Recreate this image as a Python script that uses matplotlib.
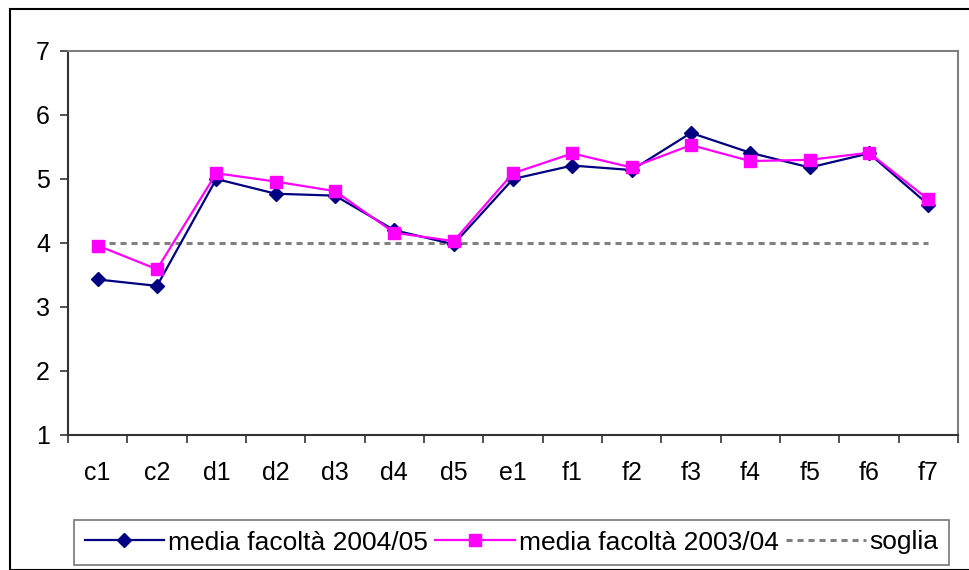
import numpy as np
import matplotlib
matplotlib.use("Agg")
import matplotlib.pyplot as plt
from matplotlib.patches import Rectangle

plt.rcParams['font.family'] = ['Liberation Sans', 'DejaVu Sans']

categories = ["c1", "c2", "d1", "d2", "d3", "d4", "d5", "e1",
              "f1", "f2", "f3", "f4", "f5", "f6", "f7"]
media_2004_05 = [3.43, 3.33, 5.0, 4.77, 4.74, 4.2, 3.98, 5.0,
                 5.21, 5.14, 5.72, 5.41, 5.18, 5.4, 4.6]
media_2003_04 = [3.96, 3.59, 5.09, 4.96, 4.81, 4.16, 4.03, 5.09,
                 5.4, 5.18, 5.53, 5.28, 5.3, 5.41, 4.68]
soglia = [4.0] * len(categories)

W, H = 969, 570
fig = plt.figure(figsize=(W / 100, H / 100), dpi=100)

# cornice esterna del grafico
fig.patches.append(Rectangle((10 / W, 0), 1.2, 1 - 9 / H,
                             transform=fig.transFigure, fill=False,
                             edgecolor="black", linewidth=1.5))

ax = fig.add_axes([68 / W, 1 - 435 / H, (958 - 68) / W, (435 - 51) / H])

x = np.arange(len(categories))
ax.plot(x, soglia, color="#808080", linewidth=2.2, dashes=(2, 1.6),
        label="soglia", zorder=1)
ax.plot(x, media_2004_05, color="#000080", linewidth=1.6, marker="D",
        markersize=7.5, label="media facoltà 2004/05", zorder=2)
ax.plot(x, media_2003_04, color="#FF00FF", linewidth=1.6, marker="s",
        markersize=9, label="media facoltà 2003/04", zorder=3)

ax.set_xlim(-0.5, len(categories) - 0.5)
ax.set_ylim(1, 7)
ax.set_yticks(range(1, 8))
ax.set_xticks(x)
ax.set_xticklabels(categories)
ax.set_xticks(np.arange(-0.5, len(categories)), minor=True)
ax.tick_params(axis="x", which="major", length=0, pad=19, labelsize=18)
ax.tick_params(axis="x", which="minor", length=6, width=1.2, color="#333333")
ax.tick_params(axis="y", length=6, width=1.2, pad=7, labelsize=18,
               color="#333333")

for side in ("top", "right"):
    ax.spines[side].set_color("#808080")
    ax.spines[side].set_linewidth(1.5)
for side in ("left", "bottom"):
    ax.spines[side].set_color("#333333")
    ax.spines[side].set_linewidth(1.5)

handles, labels = ax.get_legend_handles_labels()
order = [1, 2, 0]
leg = fig.legend([handles[i] for i in order], [labels[i] for i in order],
                 loc="center", bbox_to_anchor=((71 + 952) / 2 / W,
                                               1 - (518 + 567) / 2 / H),
                 ncol=3, fontsize=19, frameon=True,
                 fancybox=False, edgecolor="#555555", handlelength=3.0,
                 handletextpad=0.15, columnspacing=0.3, borderpad=0.4,
                 borderaxespad=0)
leg.get_frame().set_linewidth(1.2)

fig.savefig("out.png", dpi=100)
